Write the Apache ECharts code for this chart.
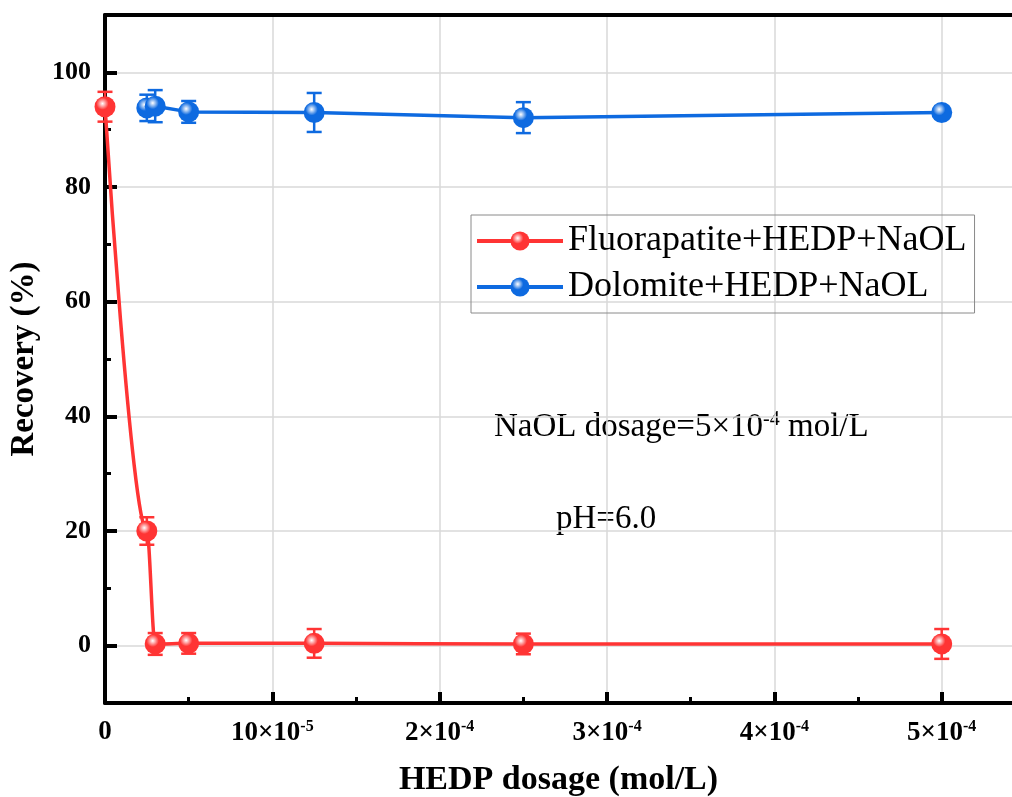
<!DOCTYPE html>
<html>
<head>
<meta charset="utf-8">
<script src="https://cdn.jsdelivr.net/npm/echarts@6/dist/echarts.min.js"></script>
<style>
html, body { margin: 0; padding: 0; background: #fff; }
#main { width: 1012px; height: 797px; }
</style>
</head>
<body>
<div id="main"></div>
<script>
// HEDP dosage (mol/L)
const fluoX = [0, 2.5e-5, 3e-5, 5e-5, 1.25e-4, 2.5e-4, 5e-4]
const fluoY = [94, 20, 0.3, 0.4, 0.4, 0.3, 0.3]
const fluoErr = [2.6, 2.4, 1.9, 1.8, 2.5, 1.8, 2.6]

const doloX = [2.5e-5, 3e-5, 5e-5, 1.25e-4, 2.5e-4, 5e-4]
const doloY = [93.8, 94.1, 93.1, 93.0, 92.1, 93.0]
const doloErr = [2.3, 2.8, 1.9, 3.4, 2.7, 1.0]

const xTickVals = [0, 1e-4, 2e-4, 3e-4, 4e-4, 5e-4]
const xTickLabels = [['0', ''], ['10×10', '-5'], ['2×10', '-4'], ['3×10', '-4'], ['4×10', '-4'], ['5×10', '-4']]
const xMinorVals = [0.5e-4, 1.5e-4, 2.5e-4, 3.5e-4, 4.5e-4]
const yTickVals = [0, 20, 40, 60, 80, 100]
const yMinorVals = [10, 30, 50, 70, 90]

const RED = '#ff3434'
const BLUE = '#0e6ae0'
const FONT = 'Liberation Serif'

const main = document.getElementById('main')
let myChart = echarts.init(main)

function ball(c) {
    return {
        type: 'radial', x: 0.38, y: 0.35, r: 0.65,
        colorStops: [
            { offset: 0, color: '#ffffff' },
            { offset: 0.45, color: c },
            { offset: 1, color: c }
        ]
    }
}

function errSeries(xs, ys, es, color) {
    return {
        type: 'custom',
        silent: true,
        z: 3,
        data: xs.map((x, i) => [x, ys[i] - es[i], ys[i] + es[i]]),
        renderItem: (params, api) => {
            const lo = api.coord([api.value(0), api.value(1)])
            const hi = api.coord([api.value(0), api.value(2)])
            const w = 7.5
            const st = { stroke: color, lineWidth: 2.5 }
            return {
                type: 'group',
                children: [
                    { type: 'line', shape: { x1: lo[0], y1: lo[1], x2: hi[0], y2: hi[1] }, style: st },
                    { type: 'line', shape: { x1: lo[0] - w, y1: lo[1], x2: lo[0] + w, y2: lo[1] }, style: st },
                    { type: 'line', shape: { x1: hi[0] - w, y1: hi[1], x2: hi[0] + w, y2: hi[1] }, style: st }
                ]
            }
        }
    }
}

function xLabel(v) {
    let i = xTickVals.findIndex(t => Math.abs(t - v) < 1e-9)
    if (i < 0) return ''
    return xTickLabels[i][1] ? `{b|${xTickLabels[i][0]}}{s|${xTickLabels[i][1]}}` : `{b|${xTickLabels[i][0]}}`
}

const labRich = {
    b: { fontFamily: FONT, fontWeight: 'bold', fontSize: 27, color: '#000' },
    s: { fontFamily: FONT, fontWeight: 'bold', fontSize: 16, color: '#000', verticalAlign: 'top', padding: [0, 0, 12, 0] }
}

const X_MAX = 5.42e-4

myChart.setOption({
    animation: false,
    grid: { left: 105, top: 15, right: 0, bottom: 94, outerBoundsMode: 'none' },
    legend: {
        left: 471, top: 215,
        orient: 'vertical',
        itemWidth: 86, itemHeight: 24, itemGap: 10,
        padding: [8, 8, 8, 4],
        borderColor: '#8a8a8a', borderWidth: 1,
        textStyle: { fontFamily: FONT, fontSize: 36, color: '#000' },
        lineStyle: { width: 4 },
        data: ['Fluorapatite+HEDP+NaOL', 'Dolomite+HEDP+NaOL']
    },
    xAxis: [{
        type: 'value',
        min: 0, max: X_MAX, interval: 0.5e-4,
        name: 'HEDP dosage (mol/L)',
        nameLocation: 'middle', nameGap: 60,
        nameTextStyle: { fontFamily: FONT, fontWeight: 'bold', fontSize: 34, color: '#000' },
        axisLine: { onZero: false, lineStyle: { color: '#000', width: 4 } },
        axisTick: { inside: true, length: 11, customValues: xTickVals, lineStyle: { color: '#000', width: 4 } },
        axisLabel: { customValues: xTickVals, margin: 16, formatter: xLabel, rich: labRich },
        splitLine: { lineStyle: { color: '#d8d8d8', width: 1.5 } }
    }, {
        type: 'value', position: 'bottom',
        min: 0, max: X_MAX, interval: 0.5e-4,
        axisLine: { show: false, onZero: false },
        axisTick: { inside: true, length: 6, customValues: xMinorVals, lineStyle: { color: '#000', width: 3 } },
        axisLabel: { show: false },
        splitLine: { show: false }
    }, {
        type: 'value', position: 'top',
        min: 0, max: X_MAX,
        axisLine: { onZero: false, lineStyle: { color: '#000', width: 4 } },
        axisTick: { show: false },
        axisLabel: { show: false },
        splitLine: { show: false }
    }],
    yAxis: [{
        type: 'value',
        min: -10, max: 110, interval: 10,
        name: 'Recovery (%)',
        nameLocation: 'middle', nameGap: 52,
        nameTextStyle: { fontFamily: FONT, fontWeight: 'bold', fontSize: 33, color: '#000' },
        axisLine: { onZero: false, lineStyle: { color: '#000', width: 4 } },
        axisTick: { inside: true, length: 12, customValues: yTickVals, lineStyle: { color: '#000', width: 4 } },
        axisLabel: { customValues: yTickVals, margin: 14, fontFamily: FONT, fontWeight: 'bold', fontSize: 26, color: '#000' },
        splitLine: { lineStyle: { color: '#d8d8d8', width: 1.5 } }
    }, {
        type: 'value', position: 'left',
        min: -10, max: 110, interval: 10,
        axisLine: { show: false, onZero: false },
        axisTick: { inside: true, length: 6, customValues: yMinorVals, lineStyle: { color: '#000', width: 3 } },
        axisLabel: { show: false },
        splitLine: { show: false }
    }],
    graphic: [{
        type: 'text', left: 494, top: 410,
        style: {
            text: '{t|NaOL dosage=5×10}{s|-4}{t| mol/L}',
            rich: {
                t: { fontFamily: FONT, fontSize: 33, color: '#000' },
                s: { fontFamily: FONT, fontSize: 20, color: '#000', verticalAlign: 'top', padding: [0, 0, 14, 0] }
            }
        }
    }, {
        type: 'text', left: 556, top: 503,
        style: { text: 'pH=6.0', fontFamily: FONT, fontSize: 33, fill: '#000' }
    }],
    series: [
        errSeries(fluoX, fluoY, fluoErr, RED),
        errSeries(doloX, doloY, doloErr, BLUE),
        {
            name: 'Fluorapatite+HEDP+NaOL',
            type: 'line',
            smooth: 0.35,
            smoothMonotone: 'x',
            z: 4,
            data: fluoX.map((x, i) => [x, fluoY[i]]),
            symbol: 'circle', symbolSize: 21,
            lineStyle: { color: RED, width: 3.5 },
            itemStyle: { color: ball(RED) }
        },
        {
            name: 'Dolomite+HEDP+NaOL',
            type: 'line',
            z: 4,
            data: doloX.map((x, i) => [x, doloY[i]]),
            symbol: 'circle', symbolSize: 21,
            lineStyle: { color: BLUE, width: 3.5 },
            itemStyle: { color: ball(BLUE) }
        }
    ]
});
</script>
</body>
</html>
